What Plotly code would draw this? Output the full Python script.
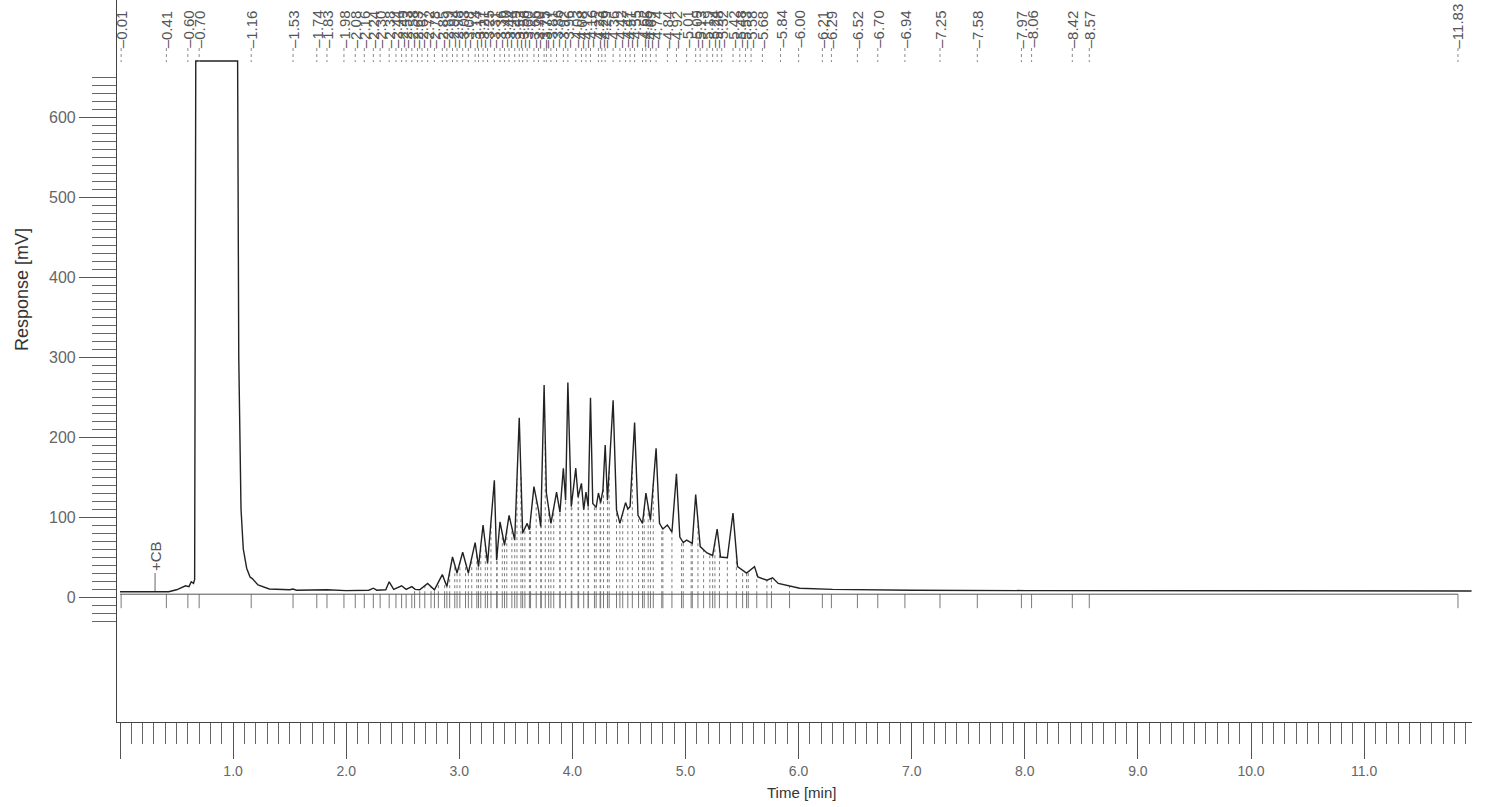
import numpy as np
import plotly.graph_objects as go

# Detector trace vertices: retention time [min] and response [mV]
time_min = [
    0.00, 0.40, 0.43, 0.50, 0.58, 0.61, 0.63, 0.65, 0.66, 0.67,
    1.04, 1.05, 1.07, 1.09, 1.12, 1.15, 1.17, 1.22, 1.32, 1.50,
    1.53, 1.56, 1.74, 1.83, 2.00, 2.20, 2.24, 2.27, 2.35, 2.38,
    2.42, 2.49, 2.53, 2.58, 2.61, 2.65, 2.72, 2.78, 2.85, 2.89,
    2.94, 2.98, 3.03, 3.08, 3.14, 3.17, 3.21, 3.25, 3.31, 3.33,
    3.36, 3.40, 3.44, 3.49, 3.53, 3.56, 3.60, 3.62, 3.66, 3.70,
    3.72, 3.75, 3.77, 3.81, 3.86, 3.89, 3.92, 3.94, 3.96, 3.99,
    4.03, 4.05, 4.08, 4.10, 4.12, 4.14, 4.16, 4.18, 4.21, 4.23,
    4.25, 4.27, 4.29, 4.31, 4.36, 4.39, 4.42, 4.47, 4.49, 4.51,
    4.55, 4.58, 4.62, 4.65, 4.69, 4.74, 4.77, 4.80, 4.84, 4.88,
    4.92, 4.95, 4.98, 5.01, 5.06, 5.09, 5.13, 5.19, 5.24, 5.28,
    5.31, 5.37, 5.42, 5.46, 5.54, 5.61, 5.64, 5.72, 5.77, 5.82,
    6.01, 6.30, 7.00, 8.00, 11.95,
]
response_mv = [
    6.5, 6.5, 6.5, 9, 14, 13, 19, 17, 22, 670,
    670, 300, 110, 60, 36, 25, 23, 15, 10, 9,
    10, 8.5, 8.5, 9, 8, 8.5, 11, 8.5, 9, 19,
    9.5, 14, 9.5, 13, 9.5, 9, 17, 9, 28, 13,
    50, 30, 56, 30, 68, 38, 90, 42, 146, 46,
    94, 65, 102, 71, 224, 80, 92, 84, 138, 109,
    88, 265, 130, 92, 131, 106, 161, 121, 268, 113,
    161, 125, 142, 109, 131, 113, 249, 117, 112, 130,
    118, 134, 190, 121, 246, 109, 92, 118, 110, 113,
    218, 102, 92, 130, 96, 186, 92, 85, 90, 81,
    154, 75, 68, 71, 67, 128, 63, 55, 52, 85,
    50, 49, 105, 38, 30, 38, 25, 21, 24, 17,
    11, 9.5, 8.5, 8, 7.5,
]

# Integration baseline level [mV] and its end time [min]
baseline_mv = 3.5
baseline_end = 11.83

# Retention times printed above the peaks [min]
peak_labels = [
    0.01, 0.41, 0.60, 0.70, 1.16, 1.53, 1.74, 1.83,
    1.98, 2.08, 2.16, 2.24, 2.30, 2.38, 2.44, 2.49, 2.53, 2.58,
    2.63, 2.67, 2.72, 2.78, 2.85, 2.89, 2.94, 2.98, 3.03, 3.08,
    3.14, 3.17, 3.21, 3.25, 3.31, 3.36, 3.40, 3.44, 3.49, 3.53,
    3.56, 3.60, 3.66, 3.70, 3.75, 3.77, 3.81, 3.86, 3.92, 3.96,
    4.03, 4.08, 4.12, 4.16, 4.23, 4.26, 4.29, 4.36, 4.42, 4.47,
    4.51, 4.55, 4.62, 4.65, 4.69, 4.74, 4.84, 4.92, 5.01, 5.09,
    5.13, 5.19, 5.24, 5.28, 5.32, 5.42,
    5.48, 5.53, 5.58, 5.68, 5.84, 6.00, 6.21, 6.29, 6.52, 6.70,
    6.94, 7.25, 7.58, 7.97, 8.06, 8.42, 8.57, 11.83,
]

# Event marker
event_time = 0.31
event_text = "+CB"

# Axis ticks
x_major = [i * 0.5 for i in range(0, 24)]
x_minor = [round(i * 0.1, 1) for i in range(1, 120)]
x_labels = [f"{v:.1f}" if (v > 0 and v == int(v)) else "" for v in x_major]
y_major = list(range(0, 700, 50))
y_labels = [str(v) if v % 100 == 0 else "" for v in y_major]
y_minor = list(range(-30, 660, 10))

X_RANGE = [-0.0265, 11.954]
Y_RANGE = [-156.25, 746.25]
PLOT_H = 722  # plot area height in px
PLOT_W = 1355  # plot area width in px
FONT = "Liberation Sans, Arial, sans-serif"

t = np.array(time_min)
r = np.array(response_mv)

# peak boundaries inside the hump: trace valleys plus midpoints between labelled peaks
inner = (r[1:-1] < r[:-2]) & (r[1:-1] < r[2:])
valley_t = t[1:-1][inner]
lab = np.array(peak_labels)
mids = (lab[1:] + lab[:-1]) / 2
bounds = np.unique(np.concatenate([valley_t, mids]))
bounds = bounds[(bounds > 2.6) & (bounds < 6.1)]
bound_r = np.interp(bounds, t, r)

drop_x, drop_y = [], []
for bt, br in zip(bounds, bound_r):
    drop_x += [bt, bt, None]
    drop_y += [baseline_mv, br, None]

tick_times = list(bounds) + [p for p in peak_labels if p < 2.6 or p > 6.1]
tick_x, tick_y = [], []
for tt in tick_times:
    tick_x += [tt, tt, None]
    tick_y += [baseline_mv, -14, None]

fig = go.Figure()

fig.add_trace(go.Scatter(
    x=drop_x, y=drop_y, mode="lines",
    line=dict(color="#7d7d7d", width=1, dash="dot"),
    hoverinfo="skip",
))
fig.add_trace(go.Scatter(
    x=tick_x, y=tick_y, mode="lines",
    line=dict(color="#7a7a7a", width=1),
    hoverinfo="skip",
))
fig.add_trace(go.Scatter(
    x=[0, baseline_end], y=[baseline_mv, baseline_mv], mode="lines",
    line=dict(color="#555555", width=1),
    hoverinfo="skip",
))
fig.add_trace(go.Scatter(
    x=time_min, y=response_mv, mode="lines",
    line=dict(color="#222222", width=1.4),
    name="Response",
))

annotations = []
shapes = []
label_font = dict(family=FONT, size=15, color="#555555")
label_bottom = 1 - 50 / PLOT_H
leader_end = 1 - 62 / PLOT_H
for p in peak_labels:
    annotations.append(dict(
        x=p, xref="x", y=label_bottom, yref="paper",
        text=f"\u2013{p:.2f}", textangle=-90, font=label_font,
        showarrow=False, xanchor="center", yanchor="bottom",
    ))
    shapes.append(dict(
        type="line", xref="x", yref="paper", x0=p, x1=p,
        y0=label_bottom + 2 / PLOT_H, y1=leader_end,
        line=dict(color="#8a8a8a", width=1, dash="dot"),
    ))

# event marker with its leader line
annotations.append(dict(
    x=event_time, xref="x", y=1 - 573 / PLOT_H, yref="paper",
    text=event_text, textangle=-90, font=label_font,
    showarrow=False, xanchor="center", yanchor="bottom",
))
shapes.append(dict(
    type="line", xref="x", yref="paper", x0=event_time, x1=event_time,
    y0=1 - 573 / PLOT_H, y1=1 - 591 / PLOT_H,
    line=dict(color="#666666", width=1),
))

annotations.append(dict(
    x=(22 - 117) / PLOT_W, xref="paper", y=1 - 290 / PLOT_H, yref="paper",
    text="Response [mV]", textangle=-90, showarrow=False,
    font=dict(family=FONT, size=18, color="#333333"),
    xanchor="center", yanchor="middle",
))
annotations.append(dict(
    x=(801 - 117) / PLOT_W, xref="paper", y=1 - 792 / PLOT_H, yref="paper",
    text="Time [min]", showarrow=False,
    font=dict(family=FONT, size=15, color="#333333"),
    xanchor="center", yanchor="middle",
))

fig.update_layout(
    width=1486, height=807,
    margin=dict(l=117, r=14, t=0, b=85),
    plot_bgcolor="white", paper_bgcolor="white",
    showlegend=False,
    font=dict(family=FONT, color="#555"),
    annotations=annotations,
    shapes=shapes,
    xaxis=dict(
        range=X_RANGE, showgrid=False, zeroline=False,
        showline=True, linecolor="#444", linewidth=1.2,
        tickmode="array", tickvals=x_major, ticktext=x_labels,
        ticks="outside", ticklen=36, tickwidth=1, tickcolor="#555",
        tickfont=dict(size=14, color="#666"),
        minor=dict(tickmode="array", tickvals=x_minor, ticks="outside",
                   ticklen=21, tickwidth=1, tickcolor="#666"),
    ),
    yaxis=dict(
        range=Y_RANGE, showgrid=False, zeroline=False,
        showline=True, linecolor="#444", linewidth=1.2,
        tickmode="array", tickvals=y_major, ticktext=y_labels,
        ticks="outside", ticklen=37, tickwidth=1, tickcolor="#555",
        tickfont=dict(size=16, color="#666"),
        minor=dict(tickmode="array", tickvals=y_minor, ticks="outside",
                   ticklen=24, tickwidth=1, tickcolor="#666"),
    ),
)

fig.write_html("out.html")
